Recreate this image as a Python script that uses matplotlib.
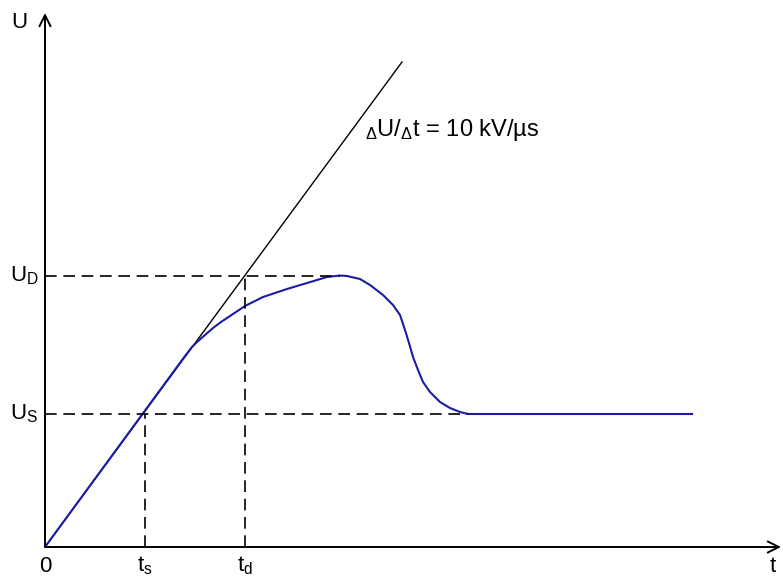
import matplotlib
matplotlib.use("Agg")
import matplotlib.pyplot as plt

plt.rcParams['font.family'] = ['Liberation Sans', 'DejaVu Sans']
plt.rcParams['mathtext.fontset'] = 'custom'
plt.rcParams['mathtext.rm'] = 'Liberation Sans'
plt.rcParams['mathtext.it'] = 'Liberation Sans'

# breakdown voltage curve (t, U)
t_curve = [0, 14.0, 14.7, 15.2, 16.0, 16.8, 17.6, 18.5, 20.0, 21.8, 24.2, 26.2, 28.2,
           29.5, 30.2, 31.5, 32.5, 33.8, 34.8, 35.5, 36.0, 36.4, 36.8, 37.3, 37.8,
           38.5, 39.5, 40.5, 41.5, 42.3, 64.7]
u_curve = [0, 19.1, 20.0, 20.5, 21.2, 21.9, 22.5, 23.1, 24.1, 25.0, 25.8, 26.4, 27.0,
           27.15, 27.1, 26.8, 26.2, 25.2, 24.2, 23.2, 21.7, 20.4, 19.0, 17.7, 16.5,
           15.5, 14.5, 13.9, 13.5, 13.3, 13.3]

# 10 kV/us ramp
t_ramp = [0, 35.7]
u_ramp = [0, 48.5]

t_s, t_d = 10.0, 20.0
U_S, U_D = 13.3, 27.15
t_peak, t_flat = 29.5, 42.3

fig = plt.figure(figsize=(7.83, 5.78), dpi=100)
ax = fig.add_axes([45 / 783, 31 / 578, 738 / 783, 547 / 578])
ax.set_xlim(0, 73.8)
ax.set_ylim(0, 54.7)
ax.axis('off')

# axes with arrows
arrow = dict(arrowstyle='->', color='black', lw=1.4, mutation_scale=20, shrinkA=0, shrinkB=0)
ax.annotate('', xy=(73.6, 0), xytext=(0, 0), arrowprops=arrow, annotation_clip=False)
ax.annotate('', xy=(0, 53.4), xytext=(0, 0), arrowprops=arrow, annotation_clip=False)

ax.plot(t_ramp, u_ramp, color='black', lw=1.0)
ax.plot(t_curve, u_curve, color='#1c1ca8', lw=1.5, solid_joinstyle='round')

dash = dict(color='black', lw=1.2, dashes=(7, 4))
ax.plot([0, t_peak], [U_D, U_D], **dash)
ax.plot([0, t_flat], [U_S, U_S], **dash)
ax.plot([t_s, t_s], [0, U_S], **dash)
ax.plot([t_d, t_d], [0, U_D], **dash)

fs = 16
ax.text(-2.6, 52.4, 'U', fontsize=fs, ha='center', va='center', clip_on=False)
ax.text(72.8, -1.9, 't', fontsize=fs, ha='center', va='center', clip_on=False)
ax.text(0, -1.9, '0', fontsize=fs, ha='center', va='center', clip_on=False)
ax.text(t_s, -1.9, r'$\mathrm{t_s}$', fontsize=fs, ha='center', va='center', clip_on=False)
ax.text(t_d, -1.9, r'$\mathrm{t_d}$', fontsize=fs, ha='center', va='center', clip_on=False)
ax.text(-2.1, U_D, r'$\mathrm{U_D}$', fontsize=fs, ha='center', va='center', clip_on=False)
ax.text(-2.1, U_S, r'$\mathrm{U_S}$', fontsize=fs, ha='center', va='center', clip_on=False)
ax.text(32.0, 41.7, r'$_\Delta$U/$_\Delta$t = 10 kV/µs', fontsize=17, ha='left', va='center')

fig.savefig('out.png', dpi=100)
